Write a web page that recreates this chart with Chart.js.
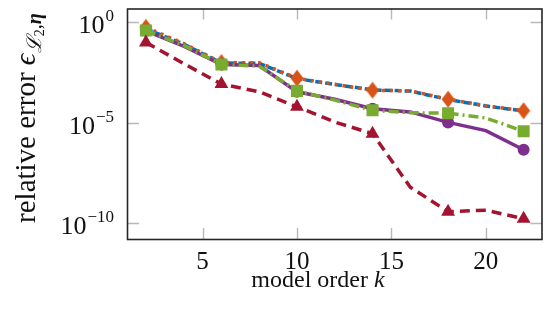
<!DOCTYPE html>
<html>
<head>
<meta charset="utf-8">
<script src="https://cdn.jsdelivr.net/npm/chart.js@4/dist/chart.umd.min.js"></script>
<style>html,body{margin:0;padding:0;background:#fff}canvas{display:block}</style>
</head>
<body>
<canvas id="chart" width="551" height="309"></canvas>
<script>
'use strict';
// model order k (markers on every second point)
var orders=[2,4,6,8,10,12,14,16,18,20,22];
var purpleErr=[3.8e-1,6.5e-2,7.9e-3,7.1e-3,3.5e-4,1.5e-4,5.0e-5,3.5e-5,1.05e-5,4.1e-6,4.6e-7];
var orangeErr=[5.6e-1,8.9e-2,1.0e-2,9.8e-3,1.66e-3,8.3e-4,4.2e-4,3.9e-4,1.5e-4,7.1e-5,4.0e-5];
var blueErr=[4.8e-1,8.3e-2,9.5e-3,9.1e-3,1.6e-3,8.1e-4,4.4e-4,3.8e-4,1.45e-4,6.9e-5,3.9e-5];
var greenErr=[3.9e-1,7.1e-2,8.1e-3,6.6e-3,3.9e-4,1.35e-4,4.2e-5,3.2e-5,3.0e-5,1.75e-5,3.8e-6];
var redErr=[1.0e-1,8.9e-3,8.5e-4,3.5e-4,6.3e-5,1.1e-5,2.9e-6,6.3e-9,3.8e-10,4.5e-10,1.7e-10];
var xTicks=[5,10,15,20];
var yTicks=[1,1e-5,1e-10];
var yTickExp=['0','\u22125','\u221210'];
var xMin=1,xMax=23,yMin=1.66e-11,yMax=4.9;

var SERIF='"Liberation Serif","DejaVu Serif",serif';

function pts(vals){return orders.map(function(k,i){return {x:k,y:vals[i]};});}
function marks(r){return orders.map(function(k,i){return i%2===0?r:0;});}

// tall diamond marker
var diamond=document.createElement('canvas');
diamond.width=14;diamond.height=18;
(function(){var d=diamond.getContext('2d');d.fillStyle='#D95319';d.beginPath();d.moveTo(7,0.5);d.lineTo(13.5,9);d.lineTo(7,17.5);d.lineTo(0.5,9);d.closePath();d.fill();})();

function ds(vals,color,dash,style,r){
  return {data:pts(vals),borderColor:color,backgroundColor:color,borderWidth:3.5,borderDash:dash,
    pointStyle:style,pointRadius:r?marks(r):0,pointBorderWidth:0,pointBackgroundColor:color,
    tension:0,fill:false,showLine:true};
}

var deco={id:'deco',afterDatasetsDraw:function(chart){
  var c=chart.ctx,a=chart.chartArea,xs=chart.scales.x,ys=chart.scales.y;
  c.save();
  c.strokeStyle='#b8b8b8';c.lineWidth=1.4;
  xTicks.forEach(function(v){
    var p=Math.round(xs.getPixelForValue(v))+0.5;
    c.beginPath();c.moveTo(p,a.bottom);c.lineTo(p,a.bottom-11);c.moveTo(p,a.top);c.lineTo(p,a.top+11);c.stroke();
  });
  yTicks.forEach(function(v){
    var p=Math.round(ys.getPixelForValue(v))+0.5;
    c.beginPath();c.moveTo(a.left,p);c.lineTo(a.left+12,p);c.moveTo(a.right,p);c.lineTo(a.right-12,p);c.stroke();
  });
  c.strokeStyle='#262626';c.lineWidth=1.6;
  c.strokeRect(a.left+0.5,a.top+0.5,a.right-a.left-1,a.bottom-a.top);
  c.fillStyle='#111';
  // x tick labels
  c.font='25px '+SERIF;c.textAlign='center';c.textBaseline='alphabetic';
  xTicks.forEach(function(v){c.fillText(String(v),xs.getPixelForValue(v),a.bottom+30);});
  // y tick labels 10^e
  yTicks.forEach(function(v,i){
    var p=ys.getPixelForValue(v);
    c.textAlign='right';
    c.font='17px '+SERIF;
    var sw=c.measureText(yTickExp[i]).width;
    c.fillText(yTickExp[i],a.left-13,p-1);
    c.font='26px '+SERIF;
    c.fillText('10',a.left-14-sw,p+11);
  });
  // x title
  c.textAlign='left';
  var F=24;
  c.font=F+'px '+SERIF;var w1=c.measureText('model order ').width;
  c.font='italic '+F+'px '+SERIF;var w2=c.measureText('k').width;
  var x0=318-(w1+w2)/2;
  c.font=F+'px '+SERIF;c.fillText('model order ',x0,287);
  c.font='italic '+F+'px '+SERIF;c.fillText('k',x0+w1,287);
  // y title (rotated)
  var G=29;
  var parts=[['relative error ','',G,0],['\u03F5','italic ',G,0],['\u2112','italic ',G*0.7,G*0.2],['2','',G*0.5,G*0.32],[',','',G*0.7,G*0.2],['\u03B7','bold italic ',G*0.7,G*0.2]];
  var tot=0;parts.forEach(function(p){c.font=p[1]+p[2]+'px '+SERIF;p.push(c.measureText(p[0]).width);tot+=p[4];});
  c.translate(35,118);c.rotate(-Math.PI/2);
  var x=-tot/2;
  parts.forEach(function(p){c.font=p[1]+p[2]+'px '+SERIF;c.fillText(p[0],x,p[3]);x+=p[4];});
  c.restore();
}};

new Chart(document.getElementById('chart'),{
  type:'line',
  data:{datasets:[
    ds(redErr,'#A2142F',[10,6],'triangle',8),
    ds(greenErr,'#77AC30',[10,4,2,4],'rect',8.5),
    ds(purpleErr,'#7E2F8E',[],'circle',6),
    ds(orangeErr,'#D95319',[3,5],diamond,1),
    ds(blueErr,'#0072BD',[7,3],'circle',0)
  ]},
  options:{
    responsive:false,animation:false,devicePixelRatio:1,
    layout:{padding:{top:7,right:3,left:0,bottom:0}},
    plugins:{legend:{display:false},tooltip:{enabled:false}},
    scales:{
      x:{type:'linear',min:xMin,max:xMax,grid:{display:false},border:{display:false},ticks:{display:false},
        afterFit:function(s){s.height=70;}},
      y:{type:'logarithmic',min:yMin,max:yMax,grid:{display:false},border:{display:false},ticks:{display:false},
        afterFit:function(s){s.width=127;}}
    }
  },
  plugins:[deco]
});
</script>
</body>
</html>
